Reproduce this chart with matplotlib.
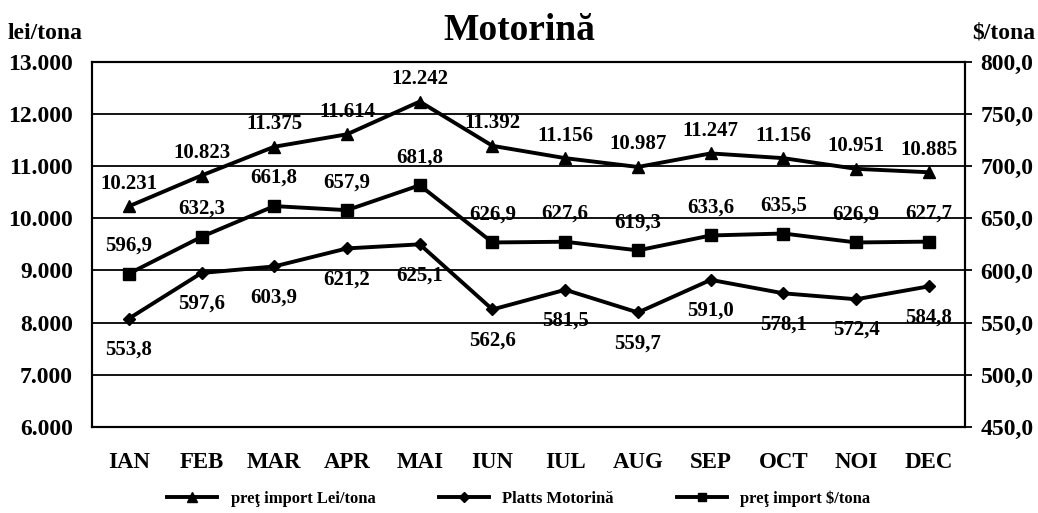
import matplotlib
matplotlib.use("Agg")
import matplotlib.pyplot as plt
from matplotlib.ticker import FuncFormatter

plt.rcParams["font.family"] = ["Liberation Serif", "DejaVu Serif"]
plt.rcParams["font.weight"] = "bold"

LUNI = ["IAN", "FEB", "MAR", "APR", "MAI", "IUN", "IUL", "AUG", "SEP", "OCT", "NOI", "DEC"]
LEI  = [10231, 10823, 11375, 11614, 12242, 11392, 11156, 10987, 11247, 11156, 10951, 10885]
PLATTS = [553.8, 597.6, 603.9, 621.2, 625.1, 562.6, 581.5, 559.7, 591.0, 578.1, 572.4, 584.8]
USD  = [596.9, 632.3, 661.8, 657.9, 681.8, 626.9, 627.6, 619.3, 633.6, 635.5, 626.9, 627.7]

def lei_fmt(v):
    return f"{v:,.0f}".replace(",", ".")

def usd_fmt(v):
    return f"{v:.1f}".replace(".", ",")

fig, ax = plt.subplots(figsize=(10.38, 5.13), dpi=100)
fig.subplots_adjust(left=0.089, right=0.93, top=0.879, bottom=0.168)
ax2 = ax.twinx()
x = list(range(len(LUNI)))

l1, = ax.plot(x, LEI, "k-", marker="^", ms=9, lw=2.8, label="preţ import Lei/tona")
l2, = ax2.plot(x, PLATTS, "k-", marker="D", ms=6, lw=2.8, label="Platts Motorină")
l3, = ax2.plot(x, USD, "k-", marker="s", ms=8, lw=2.8, label="preţ import $/tona")

for i in x:
    ax.annotate(lei_fmt(LEI[i]), (i, LEI[i]), xytext=(0, 9), textcoords="offset points",
                ha="center", va="bottom", fontsize=15, fontweight="bold")
    ax2.annotate(usd_fmt(USD[i]), (i, USD[i]), xytext=(0, 13), textcoords="offset points",
                 ha="center", va="bottom", fontsize=15, fontweight="bold")
    ax2.annotate(usd_fmt(PLATTS[i]), (i, PLATTS[i]), xytext=(0, -15), textcoords="offset points",
                 ha="center", va="top", fontsize=15, fontweight="bold")

ax.set_xlim(-0.5, 11.5)
ax.set_ylim(6000, 13000)
ax.set_yticks(range(6000, 13001, 1000))
ax.yaxis.set_major_formatter(FuncFormatter(lambda v, p: lei_fmt(v)))
ax2.set_ylim(450, 800)
ax2.set_yticks(range(450, 801, 50))
ax2.yaxis.set_major_formatter(FuncFormatter(lambda v, p: usd_fmt(v)))
ax.set_xticks(x); ax.set_xticklabels(LUNI)
ax.grid(axis="y", color="black", lw=1.3)
ax.set_axisbelow(True)
ax.tick_params(axis="y", length=0, labelsize=17, pad=14)
ax.tick_params(axis="x", length=0, labelsize=16.5, pad=18)
ax2.tick_params(axis="y", length=5, width=1.3, labelsize=17, pad=6)
for a in (ax, ax2):
    for s in a.spines.values():
        s.set_linewidth(1.5)

fig.text(0.5, 0.94, "Motorină", ha="center", va="center", fontsize=27, fontweight="bold")
fig.text(0.007, 0.935, "lei/tona", ha="left", va="center", fontsize=17, fontweight="bold")
fig.text(0.997, 0.935, "$/tona", ha="right", va="center", fontsize=17, fontweight="bold")
fig.legend(handles=[l1, l2, l3], loc="lower center", bbox_to_anchor=(0.5, -0.018), ncol=3,
           frameon=False, fontsize=12, handlelength=3, columnspacing=3.8, markerscale=0.8)

fig.savefig("out.png"); plt.close(fig)
